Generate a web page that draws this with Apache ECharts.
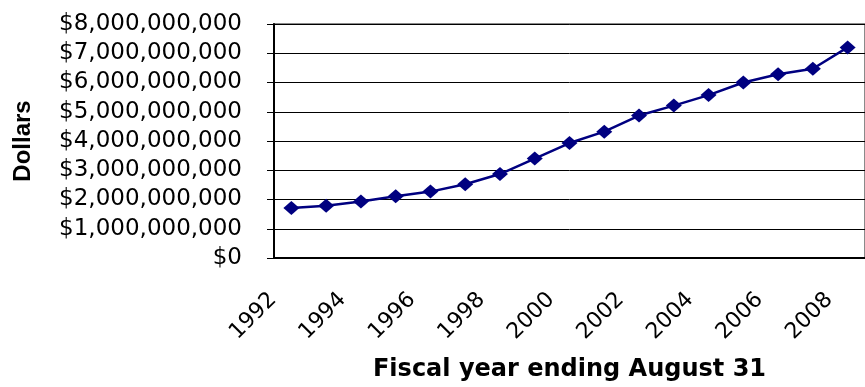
<!DOCTYPE html>
<html>
<head>
<meta charset="utf-8">
<script src="https://cdn.jsdelivr.net/npm/echarts@6/dist/echarts.min.js"></script>
<style>
  html, body { margin: 0; padding: 0; background: #fff; }
  #chart { width: 865px; height: 387px; }
</style>
</head>
<body>
<div id="chart"></div>
<script>
// fiscal years (x categories)
var years = ['1992', '1993', '1994', '1995', '1996', '1997', '1998', '1999', '2000',
  '2001', '2002', '2003', '2004', '2005', '2006', '2007', '2008'];
// dollars per fiscal year
var dollars = [1.71e9, 1.79e9, 1.93e9, 2.11e9, 2.27e9, 2.52e9, 2.87e9, 3.40e9, 3.93e9,
  4.32e9, 4.87e9, 5.21e9, 5.57e9, 6.00e9, 6.28e9, 6.47e9, 7.20e9];
var yMin = 0, yMax = 8e9, yStep = 1e9;

var labelFont = 'DejaVu Sans';

var option = {
  backgroundColor: '#fff',
  animation: false,
  grid: {
    left: 274,
    top: 24,
    width: 599,
    height: 236,
    show: true,
    borderColor: '#8a8a8a',
    borderWidth: 2
  },
  xAxis: {
    type: 'category',
    data: years,
    boundaryGap: true,
    name: 'Fiscal year ending August 31',
    nameLocation: 'middle',
    nameGap: 112,
    nameTextStyle: {
      fontFamily: labelFont,
      fontWeight: 'bold',
      fontSize: 24,
      color: '#000',
      verticalAlign: 'middle'
    },
    axisLine: { lineStyle: { color: '#000', width: 2 } },
    axisTick: { interval: 0, length: 8, lineStyle: { color: '#000' } },
    axisLabel: {
      interval: 1,
      rotate: 45,
      margin: 20,
      padding: [0, 26, 0, 0],
      fontFamily: labelFont,
      fontSize: 22,
      color: '#000'
    },
    splitLine: { show: false }
  },
  yAxis: {
    type: 'value',
    min: yMin,
    max: yMax,
    interval: yStep,
    name: 'Dollars',
    nameLocation: 'middle',
    nameRotate: 90,
    nameGap: 251,
    nameTextStyle: {
      fontFamily: 'Liberation Sans',
      fontWeight: 'bold',
      fontSize: 24,
      color: '#000',
      verticalAlign: 'middle'
    },
    axisLine: { show: true, lineStyle: { color: '#000', width: 2 } },
    axisTick: { show: true, length: 7, lineStyle: { color: '#000' } },
    axisLabel: {
      margin: 32,
      fontFamily: labelFont,
      fontSize: 23,
      color: '#000',
      formatter: function (v) {
        return '$' + v.toLocaleString('en-US');
      }
    },
    splitLine: { lineStyle: { color: '#000', width: 1 } }
  },
  series: [{
    type: 'line',
    data: dollars,
    symbol: 'diamond',
    symbolSize: [16, 14],
    lineStyle: { color: '#000080', width: 2.5 },
    itemStyle: { color: '#000080' }
  }]
};

var myChart = echarts.init(document.getElementById('chart'));
myChart.setOption(option);
</script>
</body>
</html>
